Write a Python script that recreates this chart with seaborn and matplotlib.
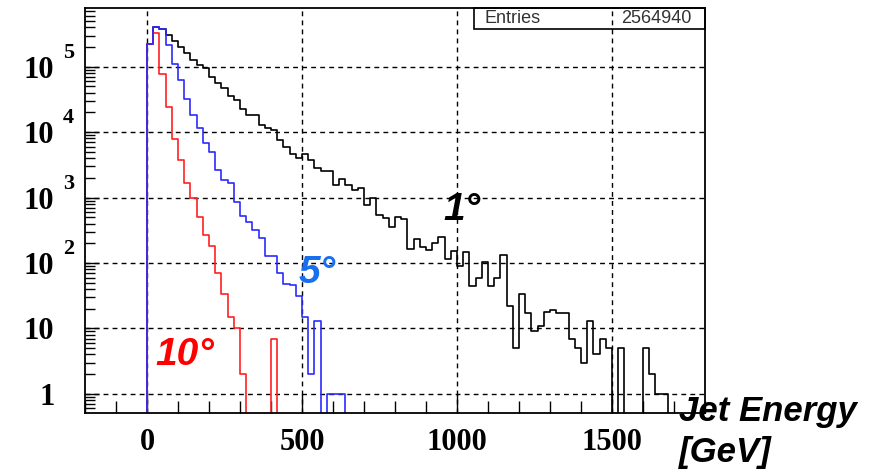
import numpy as np
import pandas as pd
import matplotlib
matplotlib.use("Agg")
import matplotlib.pyplot as plt
import seaborn as sns
from matplotlib.ticker import LogLocator, NullFormatter, MultipleLocator, FixedLocator
from matplotlib.patches import Rectangle

# Histogram binning (GeV): 20 GeV bins spanning the full x range
x_lo, x_hi, bin_width = -200, 1800, 20
first_filled_bin = 0  # contents below start at the 0-20 GeV bin

# Bin contents per jet cone size, starting at the 0-20 GeV bin
cone_1deg = [224000, 407000, 372000, 302000, 251000, 200000, 162000, 126000,
             105000, 95500, 69200, 56200, 46800, 36300, 30900, 22900, 18200,
             18600, 12900, 11500, 10700, 7590, 6030, 4680, 4070, 4570, 3800,
             2880, 2570, 2510, 1550, 1950, 1550, 1290, 1410, 776, 1000, 537,
             479, 355, 501, 468, 162, 234, 178, 158, 204, 251, 117, 155, 89,
             148, 44, 60, 102, 45, 60, 132, 22, 5, 34, 17, 9, 11, 18, 19, 17,
             17, 7, 5, 3, 13, 4, 7, 5, 0, 5, 0, 0, 0, 5, 2, 1, 1]
cone_5deg = [224000, 407000, 372000, 214000, 112000, 61700, 31600, 18200,
             11700, 6900, 4900, 2630, 1860, 1700, 850, 525, 427, 316, 240, 126,
             129, 71, 48, 46, 31, 15, 2, 13, 0, 1, 1, 1]
cone_10deg = [224000, 324000, 77600, 24000, 7940, 3800, 1700, 1000, 500, 270,
              182, 71, 34, 15, 10, 2, 0, 0, 0, 0, 7]

entries_label = "Entries"
entries_value = "2564940"

x_ticks = [0, 500, 1000, 1500]
x_tick_labels = ["0", "500", "1000", "1500"]
y_ticks = [1, 10, 100, 1000, 10000, 100000]
y_tick_labels = ["1", "10", "10", "10", "10", "10"]
y_exponents = {100: "2", 1000: "3", 10000: "4", 100000: "5"}

cone_labels = ["1°", "5°", "10°"]
line_colors = ["#000000", "#2b2bff", "#ff2020"]
label_colors = ["#000000", "#1a6fef", "#ff0000"]

edges = np.arange(x_lo, x_hi + bin_width, bin_width)
centers = edges[:-1] + bin_width / 2
n_bins = len(centers)
offset = int((first_filled_bin - x_lo) / bin_width)


def to_frame(counts, name):
    w = np.zeros(n_bins)
    w[offset:offset + len(counts)] = counts
    return pd.DataFrame({"energy": centers, "count": w, "cone": name})


frames = [to_frame(c, n) for c, n in zip([cone_1deg, cone_10deg, cone_5deg],
                                          ["1", "10", "5"])]
colors_by_cone = {"1": line_colors[0], "5": line_colors[1], "10": line_colors[2]}

sns.set_style("ticks")
plt.rcParams["font.family"] = ["Liberation Sans", "DejaVu Sans"]
plt.rcParams["text.color"] = "black"
plt.rcParams["xtick.color"] = "black"
plt.rcParams["ytick.color"] = "black"
plt.rcParams["axes.labelcolor"] = "black"

fig = plt.figure(figsize=(8.83, 4.75), dpi=100)
ax = fig.add_axes([85 / 883, 1 - 413 / 475, 620 / 883, 405 / 475])

for df in frames:
    name = df["cone"].iloc[0]
    sns.histplot(data=df, x="energy", weights="count", bins=edges.tolist(),
                 element="step", fill=False, color=colors_by_cone[name],
                 linewidth=1.2, ax=ax)

ax.set_yscale("log")
ax.set_xlim(x_lo, x_hi)
ax.set_ylim(0.51, 7.9e5)
ax.set_xlabel("")
ax.set_ylabel("")

# Frame and grid
for s in ax.spines.values():
    s.set_visible(True)
    s.set_color("black")
    s.set_linewidth(1.3)
ax.grid(False)
for xv in x_ticks:
    ax.axvline(xv, color="black", lw=1.0, ls=(0, (3.5, 3)), zorder=0.5)
for yv in y_ticks:
    ax.axhline(yv, color="black", lw=1.0, ls=(0, (3.5, 3)), zorder=0.5)

# Axis ticks
ax.xaxis.set_major_locator(FixedLocator(x_ticks))
ax.set_xticklabels(x_tick_labels)
ax.xaxis.set_minor_locator(MultipleLocator(100))
ax.yaxis.set_major_locator(FixedLocator(y_ticks))
ax.set_yticklabels(y_tick_labels)
ax.yaxis.set_minor_locator(LogLocator(base=10, subs=np.arange(2, 10), numticks=20))
ax.yaxis.set_minor_formatter(NullFormatter())

ax.tick_params(axis="x", which="major", direction="in", length=14, width=1.0,
               pad=11, labelsize=22, bottom=True, top=False, colors="black")
ax.tick_params(axis="x", which="minor", direction="in", length=9, width=1.0,
               bottom=True, top=False, colors="black")
ax.tick_params(axis="y", which="major", direction="in", length=10, width=1.0,
               pad=22, labelsize=22, left=True, right=False, colors="black")
ax.tick_params(axis="y", which="minor", direction="in", length=7.5, width=1.0,
               left=True, right=False, colors="black")
for lab in ax.get_xticklabels() + ax.get_yticklabels():
    lab.set_fontfamily(["Liberation Serif", "DejaVu Serif"])
    lab.set_fontweight("bold")

# Powers of ten written as raised exponents beside the "10" labels
for yv, ex in y_exponents.items():
    ax.annotate(ex, xy=(0, yv), xycoords=ax.get_yaxis_transform(),
                xytext=(-22, 14), textcoords="offset pixels",
                ha="left", va="center", fontsize=16, fontweight="bold",
                family=["Liberation Serif", "DejaVu Serif"],
                annotation_clip=False)

# Statistics box
ax.add_patch(Rectangle((0.627, 0.947), 0.373, 0.053, transform=ax.transAxes,
                       fill=False, edgecolor="black", lw=1.2, zorder=5,
                       clip_on=False))
ax.text(0.645, 0.9735, entries_label, transform=ax.transAxes, ha="left",
        va="center", fontsize=13, color="#333333")
ax.text(0.979, 0.9735, entries_value, transform=ax.transAxes, ha="right",
        va="center", fontsize=13, color="#333333")

# Cone-size labels
label_pos = [(955, 460), (488, 49), (27, 2.8)]
for text, col, (xv, yv) in zip(cone_labels, label_colors, label_pos):
    ax.text(xv, yv, text, color=col, fontsize=28, fontweight="bold",
            fontstyle="italic", ha="left", va="baseline")

# Axis title at the lower right
fig.text(679 / 883, 1 - 395 / 475, "Jet Energy\n[GeV]", ha="left", va="top",
         fontsize=25, fontweight="bold", fontstyle="italic", linespacing=1.3,
         color="black")

fig.savefig("out.png", dpi=100)
